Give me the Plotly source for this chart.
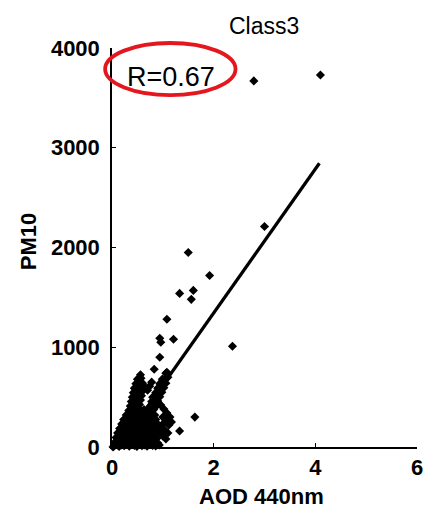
import numpy as np
import plotly.graph_objects as go

# Class3 samples: AOD at 440 nm vs PM10 (one entry per sample)
aod = [
    # dense cluster, bottom to top
    0.02, 0.04, 0.09, 0.14, 0.19, 0.24, 0.29, 0.34, 0.39, 0.44, 0.49, 0.54, 0.59, 0.64, 0.69, 0.74, 0.80, 0.86, 0.93,
    0.06, 0.12, 0.18, 0.24, 0.30, 0.36, 0.42, 0.48, 0.54, 0.60, 0.66, 0.72, 0.78, 0.84, 0.90,
    0.08, 0.14, 0.20, 0.26, 0.32, 0.38, 0.44, 0.50, 0.56, 0.62, 0.68, 0.74, 0.80, 0.88,
    0.11, 0.17, 0.23, 0.29, 0.35, 0.41, 0.47, 0.53, 0.59, 0.65, 0.71, 0.78, 0.86, 0.93,
    0.15, 0.21, 0.27, 0.33, 0.39, 0.45, 0.51, 0.57, 0.63, 0.69, 0.76, 0.84, 0.91,
    0.19, 0.25, 0.31, 0.37, 0.43, 0.49, 0.55, 0.61, 0.67, 0.74, 0.82, 0.88,
    0.23, 0.29, 0.35, 0.41, 0.47, 0.53, 0.59, 0.65, 0.72, 0.80, 0.86,
    0.28, 0.34, 0.40, 0.46, 0.52, 0.58, 0.64, 0.70, 0.78, 0.84,
    0.33, 0.39, 0.45, 0.51, 0.57, 0.63, 0.69, 0.76, 0.82,
    0.36, 0.42, 0.48, 0.54, 0.76, 0.82, 0.88,
    0.38, 0.44, 0.50, 0.56, 0.78, 0.84, 0.90,
    0.40, 0.46, 0.52, 0.58, 0.80, 0.88, 0.94,
    0.42, 0.48, 0.54, 0.60, 0.70, 0.86, 0.92, 0.98,
    0.44, 0.50, 0.56, 0.64, 0.74, 0.90, 0.96, 1.02,
    0.47, 0.53, 0.60, 0.78, 0.94, 1.00, 1.06,
    0.50, 0.57, 0.99, 1.05, 1.10,
    0.56, 1.08,
    # right-hand spread below the fit line
    0.96, 1.02, 1.08, 1.14, 1.00, 1.06, 1.12, 0.98, 1.04, 1.10, 1.00, 1.06, 1.17, 1.33,
    # isolated high values
    0.54, 0.83, 1.06, 0.94, 0.94, 0.96, 1.21, 1.08, 1.33, 1.56, 1.60, 1.92, 1.50,
    2.37, 1.63, 3.00, 2.79, 4.10,
]
pm10 = [
    0, 10, 25, 5, 20, 12, 30, 8, 22, 15, 5, 28, 12, 20, 8, 25, 15, 10, 20,
    50, 65, 45, 60, 55, 70, 48, 62, 52, 58, 66, 44, 60, 50, 40,
    95, 110, 100, 90, 115, 105, 95, 110, 100, 120, 90, 105, 95, 85,
    140, 150, 135, 155, 145, 140, 160, 150, 135, 145, 155, 140, 130, 150,
    185, 195, 190, 180, 200, 185, 195, 190, 180, 200, 190, 185, 195,
    230, 240, 235, 245, 230, 240, 235, 225, 245, 235, 230, 240,
    275, 285, 280, 290, 275, 280, 290, 270, 285, 280, 275,
    320, 330, 325, 335, 320, 330, 320, 335, 325, 320,
    365, 375, 370, 380, 365, 375, 370, 365, 375,
    410, 420, 415, 425, 410, 420, 415,
    455, 465, 460, 470, 455, 465, 460,
    500, 510, 505, 515, 500, 510, 505,
    545, 555, 550, 560, 570, 545, 555, 550,
    590, 600, 595, 605, 610, 590, 600, 595,
    635, 645, 640, 650, 635, 645, 640,
    680, 690, 680, 690, 700,
    725, 750,
    420, 380, 340, 300, 300, 260, 220, 220, 170, 140, 110, 80, 250, 160,
    690, 780, 740, 900, 1090, 1050, 1080, 1280, 1540, 1480, 1570, 1720, 1950,
    1010, 300, 2210, 3670, 3730,
]

# least-squares fit shown as a straight line
fit_slope = 722.0
fit_intercept = -101.0
fit_x = [0.15, 4.08]
r_text = "R=0.67"

x_ticks = [0, 2, 4, 6]
y_ticks = [0, 1000, 2000, 3000, 4000]

font_family = "Liberation Sans, Arial, sans-serif"
bold = dict(family=font_family, size=22, color="black", weight="bold")

fig = go.Figure()
fig.add_trace(go.Scatter(
    x=aod, y=pm10, mode="markers",
    marker=dict(symbol="diamond", size=7, color="black", line=dict(width=0)),
    cliponaxis=False, showlegend=False, hoverinfo="skip",
))
fx = np.array(fit_x)
fig.add_trace(go.Scatter(
    x=fx, y=fit_slope * fx + fit_intercept, mode="lines",
    line=dict(color="black", width=3.2), showlegend=False, hoverinfo="skip",
))

axis_common = dict(
    showline=True, linecolor="black", linewidth=1.5, mirror=False,
    showgrid=False, zeroline=False, ticks="inside", ticklen=4,
    tickwidth=1, tickcolor="black", tickfont=bold,
)
fig.update_layout(
    width=435, height=509,
    margin=dict(l=112, r=12, t=48, b=62),
    paper_bgcolor="white", plot_bgcolor="white",
    xaxis=dict(range=[0, 6], tickvals=x_ticks, ticktext=[str(v) for v in x_ticks], **axis_common),
    yaxis=dict(range=[0, 4000], tickvals=y_ticks, ticktext=[str(v) for v in y_ticks],
               ticklabelstandoff=6, **axis_common),
    annotations=[
        dict(text="Class3", xref="paper", yref="paper", x=0.497, y=1.0555,
             xanchor="center", yanchor="middle", showarrow=False,
             font=dict(family=font_family, size=23, color="black")),
        dict(text=r_text, xref="x", yref="y", x=1.17, y=3710,
             xanchor="center", yanchor="middle", showarrow=False,
             font=dict(family=font_family, size=27, color="black")),
        dict(text="AOD 440nm", xref="paper", yref="paper", x=0.489, y=-0.124,
             xanchor="center", yanchor="middle", showarrow=False, font=bold),
        dict(text="PM10", xref="paper", yref="paper", x=-0.273, y=0.515, textangle=-90,
             xanchor="center", yanchor="middle", showarrow=False, font=bold),
    ],
    shapes=[
        dict(type="circle", xref="paper", yref="paper",
             x0=-0.0225, x1=0.405, y0=0.882, y1=1.0125,
             line=dict(color="rgb(228,22,30)", width=3.8)),
    ],
)

fig.write_html("out.html")
